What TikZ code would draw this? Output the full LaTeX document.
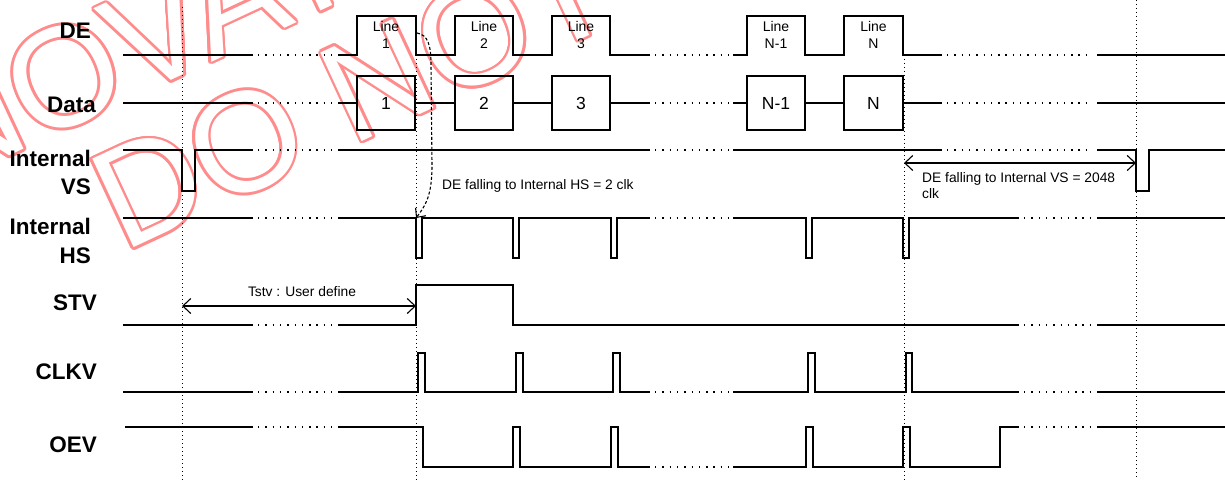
\documentclass[tikz,border=0pt]{standalone}
\usepackage{fontspec}
\setmainfont{Liberation Sans}
\usetikzlibrary{arrows.meta,calc}
\definecolor{wm}{RGB}{255,140,140}
\tikzset{
  sig/.style={line width=1.6pt, line join=miter},
  gapdots/.style={line width=1.2pt, dash pattern=on 1.4pt off 5.9pt},
  vdots/.style={line width=0.9pt, dash pattern=on 1.2pt off 2.8pt},
  lbl/.style={font=\fontsize{22.5}{28.5}\selectfont\bfseries, align=right, anchor=east, inner sep=0},
  small/.style={font=\fontsize{13.8}{16.5}\selectfont, inner sep=0},
  linelbl/.style={font=\fontsize{14}{16.5}\selectfont, inner sep=0, align=center},
  dbox/.style={draw, line width=1.6pt, minimum height=54pt, minimum width=58pt, inner sep=0, font=\fontsize{17.5}{20}\selectfont},
  meas/.style={line width=1.1pt, {Straight Barb[length=8pt,width=15pt]}-{Straight Barb[length=8pt,width=15pt]}},
  wmtext/.style={font=\fontsize{142}{150}\selectfont, inner sep=0, anchor=base west, rotate=25},
}
\begin{document}
\begin{tikzpicture}[x=1pt,y=-1pt]
\useasboundingbox (0,0) rectangle (1225,484);
% watermark
\begin{scope}
\clip (0,0) rectangle (1225,484);
\foreach \a in {0,22.5,...,337.5}{
  \node[wmtext, text=wm] at ($(-58.5,188)+(\a:2.6pt)$) {NOVATEK};
  \node[wmtext, text=wm] at ($(123,253)+(\a:2.6pt)$) {DO NOT DISTRIBUTE};
}
\node[wmtext, text=white] (wm1) at (-58.5,188) {NOVATEK};
\node[wmtext, text=white] (wm2) at (123,253) {DO NOT DISTRIBUTE};
\end{scope}

% signal labels
\node[lbl] (lDE) at (91,31) {DE};
\node[lbl] (lData) at (96,105) {Data};
\node[lbl] (lVS) at (91,172.5) {Internal\\VS};
\node[lbl] (lHS) at (91,241) {Internal\\HS};
\node[lbl] (lSTV) at (97,303) {STV};
\node[lbl] (lCLKV) at (97,372) {CLKV};
\node[lbl] (lOEV) at (97,445) {OEV};

% vertical dotted lines
\draw[vdots] (182,7) -- (182,480);
\draw[vdots] (416,55) -- (416,480);
\draw[vdots] (904,55) -- (904,480);
\draw[vdots] (1136,0) -- (1136,478);

% DE
\draw[sig] (123,55) -- (253,55);
\draw[gapdots] (258,55) -- (333,55);
\draw[sig] (338,55) -- (357,55) -- (357,16) -- (416,16) -- (416,55) -- (455,55) -- (455,16) -- (513,16) -- (513,55) -- (552,55) -- (552,16) -- (610,16) -- (610,55) -- (650,55);
\draw[gapdots] (655,55) -- (729,55);
\draw[sig] (733,55) -- (747,55) -- (747,16) -- (805,16) -- (805,55) -- (844,55) -- (844,16) -- (903,16) -- (903,55) -- (942,55);
\draw[gapdots] (947,55) -- (1092,55);
\draw[sig] (1097,55) -- (1225,55);
\node[linelbl] (ln1) at (386,35) {Line\\1};
\node[linelbl] (ln2) at (484,35) {Line\\2};
\node[linelbl] (ln3) at (581,35) {Line\\3};
\node[linelbl] (ln4) at (776,35) {Line\\N-1};
\node[linelbl] (ln5) at (873.5,35) {Line\\N};

% Data
\node[dbox] (d1) at (386,103) {1};
\node[dbox] (d2) at (484,103) {2};
\node[dbox] (d3) at (581,103) {3};
\node[dbox] (d4) at (776,103) {N-1};
\node[dbox, minimum width=59pt] (d5) at (873.5,103) {N};
\draw[sig] (123,103) -- (253,103);
\draw[gapdots] (258,103) -- (333,103);
\draw[sig] (338,103) -- (d1.west);
\draw[sig] (d1.east) -- (d2.west);
\draw[sig] (d2.east) -- (d3.west);
\draw[sig] (d3.east) -- (650,103);
\draw[gapdots] (655,103) -- (729,103);
\draw[sig] (733,103) -- (d4.west);
\draw[sig] (d4.east) -- (d5.west);
\draw[sig] (d5.east) -- (942,103);
\draw[gapdots] (947,103) -- (1092,103);
\draw[sig] (1097,103) -- (1225,103);

% Internal VS
\draw[sig] (123,150) -- (182,150) -- (182,191) -- (195,191) -- (195,150) -- (253,150);
\draw[gapdots] (258,150) -- (333,150);
\draw[sig] (338,150) -- (650,150);
\draw[gapdots] (655,150) -- (729,150);
\draw[sig] (733,150) -- (942,150);
\draw[gapdots] (947,150) -- (1092,150);
\draw[sig] (1097,150) -- (1136,150) -- (1136,191) -- (1149,191) -- (1149,150) -- (1225,150);

% Internal HS
\draw[sig] (123,218) -- (253,218);
\draw[gapdots] (258,218) -- (333,218);
\draw[sig] (338,218) -- (416,218) -- (416,258) -- (422,258) -- (422,218) -- (513,218) -- (513,258) -- (519,258) -- (519,218) -- (611,218) -- (611,258) -- (617,258) -- (617,218) -- (650,218);
\draw[gapdots] (655,218) -- (729,218);
\draw[sig] (733,218) -- (806,218) -- (806,258) -- (812,258) -- (812,218) -- (903,218) -- (903,258) -- (909,258) -- (909,218) -- (1019,218);
\draw[gapdots] (1024,218) -- (1092,218);
\draw[sig] (1097,218) -- (1225,218);

% STV
\draw[sig] (123,325) -- (253,325);
\draw[gapdots] (258,325) -- (333,325);
\draw[sig] (338,325) -- (416,325) -- (416,285) -- (513,285) -- (513,325) -- (1019,325);
\draw[gapdots] (1024,325) -- (1092,325);
\draw[sig] (1097,325) -- (1225,325);

% CLKV
\draw[sig] (123,392) -- (253,392);
\draw[gapdots] (258,392) -- (333,392);
\draw[sig] (338,392) -- (418,392) -- (418,353) -- (425,353) -- (425,392) -- (516,392) -- (516,353) -- (523,353) -- (523,392) -- (613,392) -- (613,353) -- (620,353) -- (620,392) -- (650,392);
\draw[gapdots] (655,392) -- (729,392);
\draw[sig] (733,392) -- (808,392) -- (808,353) -- (815,353) -- (815,392) -- (906,392) -- (906,353) -- (912,353) -- (912,392) -- (1019,392);
\draw[gapdots] (1024,392) -- (1092,392);
\draw[sig] (1097,392) -- (1225,392);

% OEV
\draw[sig] (125,427) -- (253,427);
\draw[gapdots] (258,427) -- (333,427);
\draw[sig] (338,427) -- (423,427) -- (423,467) -- (513,467) -- (513,427) -- (520,427) -- (520,467) -- (611,467) -- (611,427) -- (618,427) -- (618,467) -- (650,467);
\draw[gapdots] (655,467) -- (729,467);
\draw[sig] (733,467) -- (806,467) -- (806,427) -- (813,427) -- (813,467) -- (903,467) -- (903,427) -- (910,427) -- (910,467) -- (1000,467) -- (1000,427) -- (1019,427);
\draw[gapdots] (1024,427) -- (1092,427);
\draw[sig] (1097,427) -- (1225,427);

% measurements
\coordinate (tA) at (182,306);
\coordinate (tB) at (416,306);
\draw[meas] (tA) -- (tB);
\node[small] (tl) at (302,292) {Tstv : User define};

\coordinate (vA) at (904,163);
\coordinate (vB) at (1136,163);
\draw[meas] (vA) -- (vB);
\node[small, anchor=north west, align=left] (vl) at (922,172) {DE falling to Internal VS = 2048\\clk};

\coordinate (hA) at (417,33);
\coordinate (hB) at (416,218);
\draw[line width=1.1pt, dash pattern=on 3pt off 2pt, -{Straight Barb[length=7pt,width=13pt]}]
  (hA) .. controls (428,35) and (431,45) .. (431,65) -- (432,165) .. controls (432,195) and (426,205) .. (hB);
\node[small, anchor=west] (hl) at (442,186) {DE falling to Internal HS = 2 clk};
\end{tikzpicture}
\end{document}
